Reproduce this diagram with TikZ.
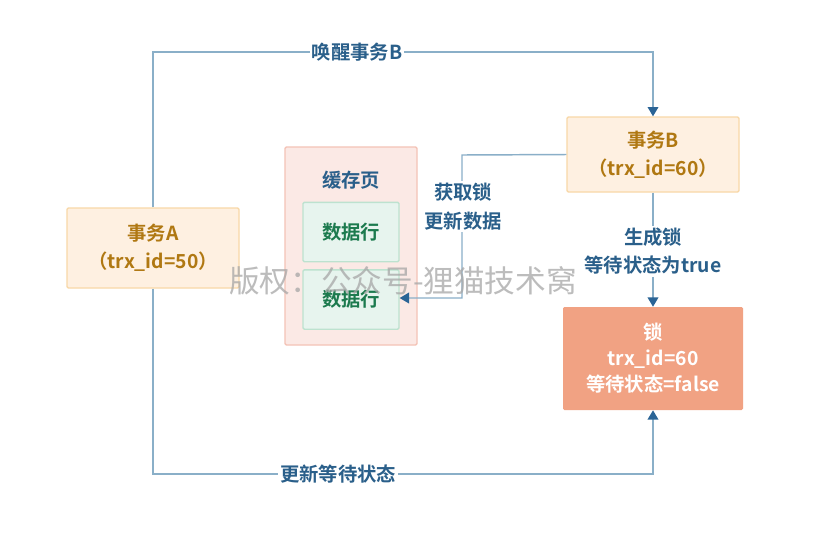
\documentclass[tikz,border=0pt]{standalone}
\usepackage{fontspec}
\setmainfont{Noto Sans CJK SC}[BoldFont={* Bold}]
\usetikzlibrary{arrows.meta}
\definecolor{lineblue}{HTML}{8AAFC8}
\definecolor{arrowblue}{HTML}{2A6496}
\definecolor{labelblue}{HTML}{2A5F8A}
\definecolor{txfill}{HTML}{FEF0E1}
\definecolor{txdraw}{HTML}{F8D8A8}
\definecolor{txtext}{HTML}{B07812}
\definecolor{lockfill}{HTML}{F1A283}
\definecolor{cachefill}{HTML}{FBE9E5}
\definecolor{cachedraw}{HTML}{F4C3B6}
\definecolor{rowfill}{HTML}{E7F4EE}
\definecolor{rowdraw}{HTML}{BDE2CF}
\definecolor{rowtext}{HTML}{1C7A4E}
\tikzset{
  txbox/.style={draw=txdraw, fill=txfill, line width=1pt, rounded corners=1pt, minimum width=129pt, text=txtext, font=\bfseries\fontsize{14.5}{21}\selectfont, align=center, inner sep=0pt},
  lockbox/.style={fill=lockfill, rounded corners=1pt, minimum width=135pt, minimum height=77.25pt, text=white, font=\bfseries\fontsize{14.5}{19.5}\selectfont, align=center, inner sep=0pt},
  cachebox/.style={draw=cachedraw, fill=cachefill, line width=1pt, rounded corners=1pt, minimum width=99pt, minimum height=148.5pt, inner sep=0pt},
  rowbox/.style={draw=rowdraw, fill=rowfill, line width=1pt, rounded corners=1pt, minimum width=72pt, minimum height=44.5pt, text=rowtext, font=\bfseries\fontsize{14.5}{20}\selectfont, inner sep=0pt},
  conn/.style={draw=lineblue, line width=1.1pt},
  arr/.style={conn, -{Triangle[length=7pt, width=8pt, color=arrowblue]}},
  lbl/.style={fill=white, text=labelblue, font=\bfseries\fontsize{14.5}{21.5}\selectfont, align=center, inner sep=1.5pt},
}
\begin{document}
\begin{tikzpicture}[x=0.75pt, y=-0.75pt]
\useasboundingbox (0,0) rectangle (816,558);
\fill[white] (0,0) rectangle (816,558);
% nodes
\node[txbox, minimum height=60pt] (A) at (153,248) {事务A\\（trx\_id=50）};
\node[txbox, minimum height=56.25pt] (B) at (653,154.5) {事务B\\（trx\_id=60）};
\node[lockbox] (L) at (653,358.5) {锁\\trx\_id=60\\等待状态=false};
\node[cachebox] (C) at (351,246) {};
\node[text=labelblue, font=\bfseries\fontsize{14.5}{16}\selectfont] (CT) at (351,180) {缓存页};
\node[rowbox] (R1) at (351,232) {数据行};
\node[rowbox] (R2) at (351,299.5) {数据行};
% corner coordinates
\coordinate (TL) at (153,52);
\coordinate (TR) at (653,52);
\coordinate (BL) at (153,474);
\coordinate (BR) at (653,474);
\coordinate (M1) at (462,155);
\coordinate (M2) at (462,298);
% connectors
\draw[arr] (A.north) -- (TL) -- (TR) -- (B.north);
\draw[arr] (B.west) -- (M1) -- (M2) -- (R2.east |- M2);
\draw[arr] (B.south) -- (L.north);
\draw[arr] (A.south) -- (BL) -- (BR) -- (L.south);
% labels
\node[lbl] (l1) at (357,52) {唤醒事务B};
\node[lbl] (l2) at (463,206.5) {获取锁\\更新数据};
\node[lbl] (l3) at (653,251) {生成锁\\等待状态为true};
\node[lbl] (l4) at (338,474) {更新等待状态};
% watermark
\node[text=black!35, opacity=0.75, font=\fontsize{23}{28}\selectfont] (wm) at (403,281) {版权：公众号-狸猫技术窝};
\end{tikzpicture}
\end{document}
